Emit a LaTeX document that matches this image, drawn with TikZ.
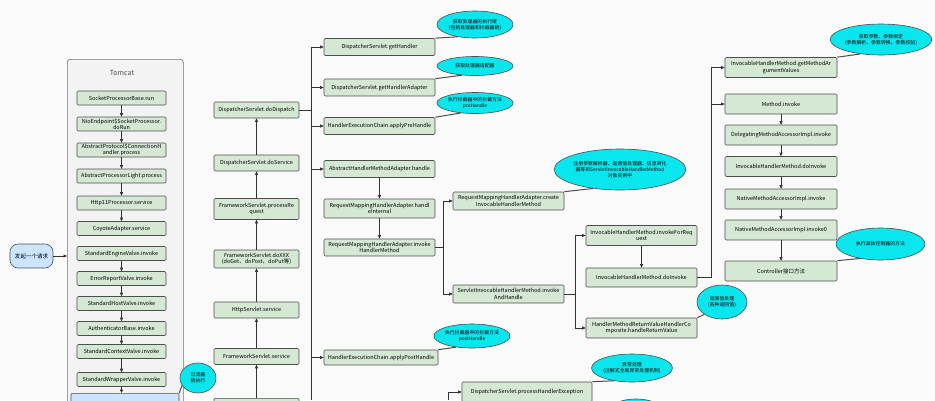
\documentclass[tikz,border=0pt]{standalone}
\usepackage{fontspec}
\setmainfont{Noto Sans CJK SC}
\usetikzlibrary{arrows.meta,positioning,shapes.geometric,calc}
\definecolor{boxfill}{HTML}{D5E8D4}
\definecolor{boxline}{HTML}{4D4D4D}
\definecolor{notefill}{HTML}{0AE6EE}
\definecolor{reqfill}{HTML}{CCE5FF}
\definecolor{wire}{HTML}{333333}
\definecolor{tomfill}{HTML}{F3F3F3}
\definecolor{paper}{HTML}{FAFAFA}

\begin{document}
\begin{tikzpicture}[x=1pt,y=-1pt,
  fn/.style={draw=boxline,fill=boxfill,rounded corners=1.2pt,align=center,inner sep=0.5pt,
    font=\fontsize{5.5}{6.4}\selectfont,line width=0.6pt},
  tc/.style={fn,minimum width=89pt,minimum height=14pt},
  c2/.style={fn,minimum width=85pt,minimum height=16pt},
  wide/.style={fn,minimum width=111pt,minimum height=17pt},
  c6/.style={fn,minimum width=112pt,minimum height=20pt},
  note/.style={ellipse,draw=boxline,fill=notefill,align=center,inner sep=0pt,
    font=\fontsize{4.9}{6}\selectfont,line width=0.6pt},
  arr/.style={-{Triangle[length=3.5pt,width=3pt]},draw=wire,line width=0.7pt},
  wirel/.style={draw=wire,line width=0.7pt},
  tail/.style={draw=boxline,line width=1pt}]
  \useasboundingbox (0,0) rectangle (935,400);
  \fill[paper] (0,0) rectangle (935,400);
  \clip (0,0) rectangle (935,400);

  % Tomcat
  \node[draw=boxline!80,fill=tomfill,rounded corners=3pt,line width=0.6pt,
    minimum width=116pt,minimum height=370pt,anchor=north west] (tomcat) at (67,59) {};
  \node[font=\fontsize{7}{8}\selectfont,text=black!70] (tct) at (122,73) {Tomcat};
  \node[tc] (spb) at (121.5,98) {SocketProcessorBase.run};
  \node[tc] (nio) at (121.5,124) {NioEndpoint\$SocketProcessor.\\doRun};
  \node[tc] (apc) at (121.5,150) {AbstractProtocol\$ConnectionH\\andler.process};
  \node[tc] (apl) at (121.5,176) {AbstractProcessorLight.process};
  \node[tc] (h11) at (121.5,203) {Http11Processor.service};
  \node[tc] (coy) at (121.5,228.5) {CoyoteAdapter.service};
  \node[tc] (sev) at (121.5,253.5) {StandardEngineValve.invoke};
  \node[tc] (erv) at (121.5,278.5) {ErrorReportValve.invoke};
  \node[tc] (shv) at (121.5,303.5) {StandardHostValve.invoke};
  \node[tc] (aub) at (121.5,328.5) {AuthenticatorBase.invoke};
  \node[tc] (scv) at (121.5,351.5) {StandardContextValve.invoke};
  \node[tc] (swv) at (121.5,379.5) {StandardWrapperValve.invoke};
  \node[fn,fill=reqfill,minimum width=108pt,minimum height=16pt,anchor=north] (fch) at (125,393) {};
  \foreach \a/\b in {spb/nio,nio/apc,apc/apl,apl/h11,h11/coy,sev/erv,erv/shv,shv/aub,aub/scv,scv/swv,swv/fch}
    \draw[arr] (\a.south) -- (\a.south |- \b.north);

  % request
  \node[fn,fill=reqfill,rounded corners=8pt,minimum width=43pt,minimum height=24pt] (req) at (31.5,256) {发起一个请求};
  \draw[arr] (req.east) -- (req.east -| tomcat.west);
  \node[note,minimum width=36pt,minimum height=30pt] (flt) at (198,378) {过滤器\\链执行};
  \draw[tail] (flt.205) -- (fch.north east);

  % servlet column
  \node[c2] (ddp) at (256.5,110) {DispatcherServlet.doDispatch};
  \node[c2] (dsv) at (256.5,163) {DispatcherServlet.doService};
  \node[c2,minimum height=21pt] (fpr) at (256.5,209) {FrameworkServlet.processRe\\quest};
  \node[c2,minimum height=18pt] (fdx) at (256.5,259) {FrameworkServlet.doXXX\\(doGet、doPost、doPut等)};
  \node[c2] (hss) at (256.5,310) {HttpServlet.service};
  \node[c2] (fss) at (256.5,356.5) {FrameworkServlet.service};
  \node[c2,anchor=north] (flb) at (256.5,398) {};
  \foreach \a/\b in {flb/fss,fss/hss,hss/fdx,fdx/fpr,fpr/dsv,dsv/ddp}
    \draw[arr] (\a.north) -- (\b.south);

  % doDispatch steps
  \node[wide] (ghd) at (379.5,47) {DispatcherServlet.getHandler};
  \node[wide] (gha) at (379.5,87.5) {DispatcherServlet.getHandlerAdapter};
  \node[wide] (pre) at (379.5,126) {HandlerExecutionChain.applyPreHandle};
  \node[wide] (hdl) at (379.5,169) {AbstractHandlerMethodAdapter.handle};
  \node[wide,minimum height=19pt] (hin) at (379.5,208.5) {RequestMappingHandlerAdapter.handl\\eInternal};
  \node[wide] (ihm) at (379.5,247.5) {RequestMappingHandlerAdapter.invoke\\HandlerMethod};
  \node[wide,minimum width=114pt,minimum height=15pt] (post) at (381,357.5) {HandlerExecutionChain.applyPostHandle};
  \draw[arr] (hdl) -- (hin);
  \draw[arr] (hin) -- (ihm);
  \coordinate (busa) at (311,47);
  \coordinate (busaend) at (311,400);
  \draw[wirel] (busa) -- (busaend);
  \draw[wirel] (ddp.east) -- (ddp.east -| busa);
  \foreach \n in {ghd,gha,pre,hdl,post}
    \draw[arr] (busa |- \n.west) -- (\n.west);

  \node[note,minimum width=76pt,minimum height=27pt] (n1) at (475,24.5) {获取处理器的执行链\\(包括处理器和拦截器链)};
  \node[note,minimum width=76pt,minimum height=19pt] (n2) at (475,66) {获取处理器适配器};
  \node[note,minimum width=76pt,minimum height=21pt] (n3) at (475,103) {执行拦截器中的拦截方法\\preHandle};
  \node[note,minimum width=69pt,minimum height=24pt] (n8) at (472,336) {执行拦截器中的拦截方法\\postHandle};
  \draw[tail] (n1.215) -- (ghd.north east);
  \draw[tail] (n2.215) -- (gha.north east);
  \draw[tail] (n3.215) -- (pre.north east);
  \draw[tail] (n8.215) -- (post.north east);

  % handler adapter
  \node[wide,minimum height=18pt] (cih) at (508.5,201) {RequestMappingHandlerAdapter.create\\InvocableHandlerMethod};
  \node[wide,minimum height=18pt] (sih) at (508.5,294) {ServletInvocableHandlerMethod.invoke\\AndHandle};
  \coordinate (busb) at (443,247.5);
  \draw[arr] (ihm.east) -- (busb) |- (cih.west);
  \draw[arr] (busb) |- (sih.west);
  \node[note,minimum width=111pt,minimum height=41pt] (n4) at (620,169.5) {注册参数解析器、返回值处理器、信息转化\\器等到ServletInvocableHandlerMethod\\对象实例中};
  \draw[tail] (n4.215) -- (cih.north east);

  % invokeAndHandle
  \node[wide,minimum height=20pt] (ifr) at (641.5,235.5) {InvocableHandlerMethod.invokeForReq\\uest};
  \node[wide,minimum height=19pt] (dv1) at (641.5,277.5) {InvocableHandlerMethod.doInvoke};
  \node[wide,minimum height=20pt] (rvh) at (641.5,328) {HandlerMethodReturnValueHandlerCo\\mposite.handleReturnValue};
  \draw[arr] (ifr) -- (dv1);
  \coordinate (busc) at (575,294);
  \draw[arr] (sih.east) -- (busc) |- (ifr.west);
  \draw[arr] (busc) |- (rvh.west);
  \node[note,minimum width=50pt,minimum height=34pt] (n7) at (722,302) {返回值处理\\(各种返回值)};
  \draw[tail] (n7.215) -- (rvh.north east);

  % doInvoke
  \node[c6] (gma) at (781,67.5) {InvocableHandlerMethod.getMethodAr\\gumentValues};
  \node[c6] (mti) at (781,104) {Method.invoke};
  \node[c6] (dma) at (781,135) {DelegatingMethodAccessorImpl.invoke};
  \node[c6] (dv2) at (781,166.5) {InvocableHandlerMethod.doInvoke};
  \node[c6] (nma) at (781,199) {NativeMethodAccessorImpl.invoke};
  \node[c6] (nm0) at (781,230) {NativeMethodAccessorImpl.invoke0};
  \node[c6] (ctl) at (781,271) {Controller接口方法};
  \foreach \a/\b in {mti/dma,dma/dv2,dv2/nma,nma/nm0,nm0/ctl}
    \draw[arr] (\a) -- (\b);
  \coordinate (busd) at (711,277.5);
  \draw[arr] (dv1.east) -- (busd) |- (gma.west);
  \draw[arr] (busd |- mti.west) -- (mti.west);
  \node[note,minimum width=88pt,minimum height=31pt] (n5) at (881,39.5) {获取参数、参数绑定\\(参数解析、参数转换、参数校验)};
  \node[note,minimum width=89pt,minimum height=32pt] (n6) at (880.5,244) {执行具体控制器的方法};
  \draw[tail] (n5.215) -- (gma.north east);
  \draw[tail] (n6.215) -- (ctl.north east);

  % exception handling
  \node[wide,minimum width=130pt,minimum height=20pt] (phe) at (527,392) {DispatcherServlet.processHandlerException};
  \coordinate (pheup) at (448,400);
  \draw[arr] (pheup) |- (phe.west);
  \node[note,minimum width=80pt,minimum height=28pt] (n9) at (632,368) {异常处理\\(注解式全局异常处理机制)};
  \draw[tail] (n9.215) -- (phe.north east);
  \node[note,minimum width=60pt,minimum height=30pt] (n10) at (636,414) {};
\end{tikzpicture}
\end{document}
